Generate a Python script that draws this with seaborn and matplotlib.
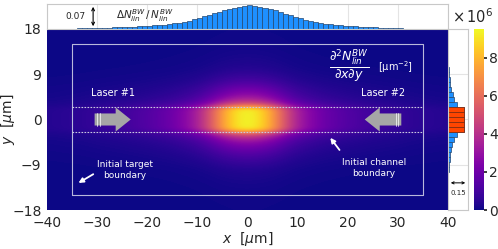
import numpy as np
import pandas as pd
import seaborn as sns
import matplotlib.pyplot as plt

# x-profile of the top histogram (1 um bins, centres -39.5 .. 39.5)
x_centres = np.arange(-39.5, 40, 1.0)
x_frac = [0.0004, 0.0005, 0.0006, 0.0008, 0.0010, 0.0013, 0.0016, 0.0019, 0.0022, 0.0026,
          0.0030, 0.0035, 0.0040, 0.0045, 0.0050, 0.0055, 0.0060, 0.0066, 0.0074, 0.0081,
          0.0090, 0.0100, 0.0111, 0.0123, 0.0138, 0.0158, 0.0180, 0.0205, 0.0234, 0.0285,
          0.0320, 0.0360, 0.0400, 0.0440, 0.0480, 0.0520, 0.0560, 0.0590, 0.0620, 0.0650,
          0.0660, 0.0650, 0.0630, 0.0600, 0.0560, 0.0520, 0.0480, 0.0430, 0.0380, 0.0340,
          0.0300, 0.0260, 0.0220, 0.0190, 0.0170, 0.0150, 0.0130, 0.0115, 0.0102, 0.0092,
          0.0084, 0.0075, 0.0066, 0.0058, 0.0050, 0.0043, 0.0036, 0.0030, 0.0025, 0.0020,
          0.0016, 0.0013, 0.0011, 0.0009, 0.0007, 0.0006, 0.0005, 0.0004, 0.0003, 0.0003]

# y-profile of the right histogram (1 um bins, centres -18 .. 18)
y_centres = np.arange(-18, 19, 1.0)
y_frac = [0.0005, 0.0006, 0.0008, 0.0010, 0.0013, 0.0018, 0.0025, 0.0035, 0.0050, 0.0080,
          0.0120, 0.0170, 0.0240, 0.0320, 0.0440, 0.0650, 0.1180, 0.1200, 0.1200, 0.1200,
          0.1180, 0.0650, 0.0450, 0.0340, 0.0260, 0.0180, 0.0120, 0.0080, 0.0050, 0.0035,
          0.0025, 0.0018, 0.0013, 0.0010, 0.0008, 0.0006, 0.0005]

# density along the channel axis (x 10^6 um^-2), 2 um steps, centres -39 .. 39
axis_density = [0.40, 0.45, 0.50, 0.55, 0.65, 0.75, 0.85, 0.95, 1.10, 1.25,
                1.45, 1.70, 2.00, 2.50, 3.10, 4.10, 5.60, 7.30, 8.60, 9.30,
                9.30, 8.60, 7.30, 5.60, 4.10, 3.10, 2.50, 2.00, 1.70, 1.45,
                1.25, 1.10, 0.95, 0.85, 0.75, 0.65, 0.55, 0.50, 0.45, 0.40]
cbar_ticks = [0, 2, 4, 6, 8]

sns.set_theme(style='whitegrid')
plt.rcParams['font.family'] = ['DejaVu Sans']
plt.rcParams['axes.unicode_minus'] = True

fig = plt.figure(figsize=(4.98, 2.49), dpi=100)
ax = fig.add_axes([0.0944, 0.1566, 0.805, 0.727])
ax_top = fig.add_axes([0.0944, 0.8835, 0.805, 0.1004])
ax_right = fig.add_axes([0.8996, 0.1566, 0.0402, 0.727])
cax = fig.add_axes([0.9518, 0.1566, 0.02, 0.727])

# main density map: channel-axis density times the relative transverse profile
y_rel = np.array(y_frac) / max(y_frac)
field = np.outer(y_rel, axis_density)
im = ax.imshow(field, origin='lower', extent=(-40, 40, -18.5, 18.5), cmap='plasma',
               vmin=0, vmax=9.5, interpolation='bicubic', aspect='auto')
ax.set_xlim(-40, 40)
ax.set_ylim(-18, 18)
ax.grid(False)
ax.set_xticks(np.arange(-40, 41, 10))
ax.set_yticks([-18, -9, 0, 9, 18])
ax.tick_params(labelsize=10, length=3, pad=1)
ax.set_xlabel(r'$x$  [$\mu$m]', fontsize=10, labelpad=0)
ax.set_ylabel(r'$y$  [$\mu$m]', fontsize=10)
ax.yaxis.set_label_coords(-0.074, 0.5)
for s in ax.spines.values():
    s.set_visible(False)

# target box and channel boundaries
ax.plot([-35, 35, 35, -35, -35], [-15, -15, 15, 15, -15], color='#b8b8dc', lw=0.8)
ax.plot([-35, 35], [2.5, 2.5], color='#c8c8e0', lw=0.8, ls=(0, (1.5, 1.2)))
ax.plot([-35, 35], [-2.5, -2.5], color='#c8c8e0', lw=0.8, ls=(0, (1.5, 1.2)))

# laser arrows
ax.arrow(-30.5, 0, 7.2, 0, width=2.4, head_width=4.8, head_length=3.0,
         length_includes_head=True, fc='#a6a6a6', ec='none')
ax.arrow(30.7, 0, -7.3, 0, width=2.4, head_width=4.8, head_length=3.0,
         length_includes_head=True, fc='#a6a6a6', ec='none')
for xs in [-30.0, -29.5, 29.6, 30.1]:
    ax.plot([xs, xs], [-1.2, 1.2], color='white', lw=0.5)
ax.text(-26.9, 5.3, 'Laser #1', color='white', fontsize=7, ha='center', va='center')
ax.text(27.0, 5.3, 'Laser #2', color='white', fontsize=7, ha='center', va='center')

ax.text(-24.4, -10.0, 'Initial target\nboundary', color='white', fontsize=6.5,
        ha='center', va='center', linespacing=1.3)
ax.annotate('', xy=(-34.2, -12.9), xytext=(-30.3, -10.6),
            arrowprops=dict(arrowstyle='-|>', color='white', lw=1.3, mutation_scale=7))
ax.text(25.2, -9.7, 'Initial channel\nboundary', color='white', fontsize=6.5,
        ha='center', va='center', linespacing=1.3)
ax.annotate('', xy=(16.2, -3.2), xytext=(18.7, -6.5),
            arrowprops=dict(arrowstyle='-|>', color='white', lw=1.3, mutation_scale=7))

ax.text(20.3, 10.6, r'$\frac{\partial^2 N_{lin}^{BW}}{\partial x\partial y}$', color='white',
        fontsize=13, ha='center', va='center')
ax.text(29.6, 10.4, '[μm$^{-2}$]', color='white', fontsize=7, ha='center', va='center')

# top histogram
top_df = pd.DataFrame({'x': x_centres, 'w': x_frac})
sns.histplot(data=top_df, x='x', weights='w', binwidth=1.0, binrange=(-40, 40), ax=ax_top,
             color='#1e90ff', edgecolor='#24466e', linewidth=0.5, alpha=1)
ax_top.set_xlim(-40, 40)
ax_top.set_ylim(0, 0.07)
ax_top.set_xticks(np.arange(-40, 41, 10))
ax_top.set_yticks([])
ax_top.tick_params(labelbottom=False, length=0)
ax_top.set_xlabel('')
ax_top.set_ylabel('')
ax_top.grid(True, axis='x', color='#e4e4e4', lw=0.8)
for s in ax_top.spines.values():
    s.set_color('#c8c8c8')
    s.set_linewidth(0.8)
ax_top.annotate('', xy=(-30.8, 0.07), xytext=(-30.8, 0),
                arrowprops=dict(arrowstyle='<->', color='black', lw=0.8, mutation_scale=5))
ax_top.text(-34.3, 0.036, '0.07', fontsize=6.5, ha='center', va='center')
ax_top.text(-20.5, 0.037, r'$\Delta N_{lin}^{BW}\,/\,N_{lin}^{BW}$', fontsize=7.5,
            ha='center', va='center')

# right histogram
right_df = pd.DataFrame({'y': y_centres, 'w': y_frac})
chan_df = right_df[right_df['y'].abs() <= 2]
sns.histplot(data=right_df, y='y', weights='w', binwidth=1.0, binrange=(-18.5, 18.5),
             ax=ax_right, color='#1e90ff', edgecolor='#24466e', linewidth=0.5, alpha=1)
sns.histplot(data=chan_df, y='y', weights='w', binwidth=1.0, binrange=(-2.5, 2.5),
             ax=ax_right, color='#ff4500', edgecolor='#7a2a10', linewidth=0.5, alpha=1)
ax_right.set_xlim(0, 0.15)
ax_right.set_ylim(-18, 18)
ax_right.set_yticks([-18, -9, 0, 9, 18])
ax_right.set_xticks([])
ax_right.tick_params(labelleft=False, length=0)
ax_right.set_xlabel('')
ax_right.set_ylabel('')
ax_right.grid(True, axis='y', color='#e4e4e4', lw=0.8)
for s in ax_right.spines.values():
    s.set_color('#c8c8c8')
    s.set_linewidth(0.8)
ax_right.annotate('', xy=(0.15, -12.6), xytext=(0, -12.6),
                  arrowprops=dict(arrowstyle='<->', color='black', lw=0.7, mutation_scale=4))
ax_right.text(0.075, -14.6, '0.15', fontsize=5, ha='center', va='center')

# colorbar
cb = fig.colorbar(im, cax=cax, ticks=cbar_ticks)
cb.outline.set_visible(False)
cax.tick_params(labelsize=10, length=2.5, pad=1)
fig.text(0.907, 0.935, r'$\times\,10^6$', fontsize=10.5, ha='left', va='center')

fig.savefig('out.png', dpi=100)
